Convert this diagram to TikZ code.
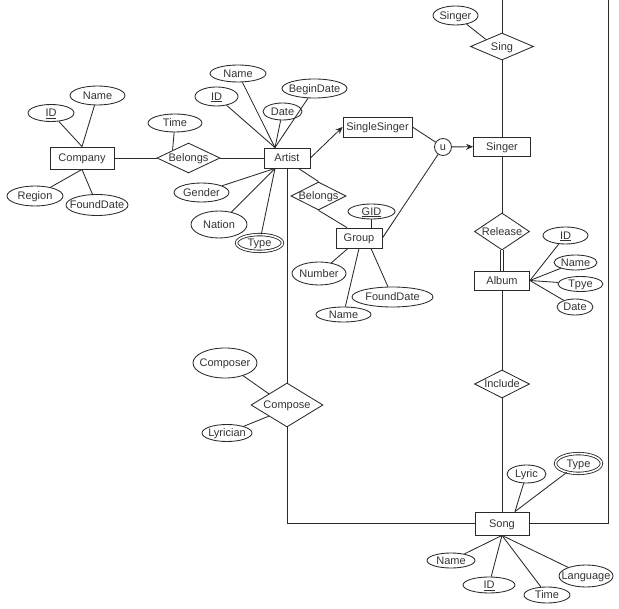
\documentclass[tikz,border=0pt]{standalone}
\usepackage{fontspec}
\setmainfont{Liberation Sans}
\usetikzlibrary{shapes.geometric,arrows.meta,calc}
\definecolor{lc}{HTML}{2a2a2a}
\definecolor{tc}{HTML}{333333}
\tikzset{
  base/.style={draw=lc, line width=0.85pt, text=tc, inner sep=0pt,
    font=\fontsize{11}{12}\selectfont, text height=7.8pt, text depth=0.5pt,
    execute at begin node=\hbox to 0pt\bgroup\hss,
    execute at end node=\hss\egroup},
  ent/.style={base, rectangle},
  attr/.style={base, ellipse},
  multi/.style={base, ellipse, double=white, double distance=1.6pt},
  rel/.style={base, diamond, aspect=2},
  link/.style={draw=lc, line width=0.85pt},
  arr/.style={link, -{Stealth[length=7pt,width=6pt]}},
}
\begin{document}
\begin{tikzpicture}[x=1pt,y=-1pt]
\useasboundingbox (0,0) rectangle (619,609);
% Company
\node[ent, minimum width=64, minimum height=22] (company) at (82,158) {Company};
\node[attr, minimum width=46, minimum height=17] (cid) at (51,113) {\underline{ID}};
\node[attr, minimum width=55, minimum height=19] (cname) at (97.5,95.5) {Name};
\node[attr, minimum width=56, minimum height=20] (cregion) at (35,196) {Region};
\node[attr, minimum width=62, minimum height=21] (cfound) at (97,205) {FoundDate};
\node[attr, minimum width=54, minimum height=18] (time) at (175,123) {Time};
\node[rel, minimum width=63, minimum height=30] (belongs1) at (188.5,158) {Belongs};
% Artist
\node[ent, minimum width=46, minimum height=20] (artist) at (287,158) {Artist};
\node[attr, minimum width=56, minimum height=17] (aname) at (238,73.5) {Name};
\node[attr, minimum width=43, minimum height=19] (aid) at (216.5,96.5) {\underline{ID}};
\node[attr, minimum width=65, minimum height=19] (abegin) at (314.5,88.5) {BeginDate};
\node[attr, minimum width=39, minimum height=17] (adate) at (282.5,111.5) {Date};
\node[attr, minimum width=55, minimum height=19] (agender) at (201.5,192.5) {Gender};
\node[attr, minimum width=56, minimum height=27] (anation) at (219,224.5) {Nation};
\node[multi, minimum width=45.8, minimum height=16.8] (atype) at (259.5,243) {Type};
% Single singer / group
\node[ent, minimum width=69, minimum height=20] (single) at (377.5,127) {SingleSinger};
\node[rel, minimum width=55, minimum height=28] (belongs2) at (318.5,196) {Belongs};
\node[ent, minimum width=46, minimum height=20] (group) at (359,238) {Group};
\node[attr, minimum width=47, minimum height=15] (gid) at (371.5,211.5) {\underline{GID}};
\node[attr, minimum width=54, minimum height=23] (gnumber) at (319,273.5) {Number};
\node[attr, minimum width=55, minimum height=15] (gname) at (343.5,314.5) {Name};
\node[attr, minimum width=81, minimum height=20] (gfound) at (392.5,297) {FoundDate};
\node[base, circle, minimum size=17] (u) at (443,147) {u};
% Singer column
\node[ent, minimum width=57, minimum height=19] (singer) at (502,146.5) {Singer};
\node[rel, minimum width=63, minimum height=27] (sing) at (502,46.5) {Sing};
\node[attr, minimum width=45, minimum height=19] (singattr) at (455.5,15.5) {Singer};
\node[rel, minimum width=55, minimum height=37] (release) at (502,231.5) {Release};
\node[ent, minimum width=55, minimum height=19] (album) at (502,280.5) {Album};
\node[attr, minimum width=45, minimum height=17] (alid) at (565.5,235.5) {\underline{ID}};
\node[attr, minimum width=43, minimum height=15] (alname) at (575.5,262.5) {Name};
\node[attr, minimum width=45, minimum height=15] (altype) at (580.5,284) {Tpye};
\node[attr, minimum width=36, minimum height=16] (aldate) at (575,307) {Date};
\node[rel, minimum width=55, minimum height=28] (include) at (502,384) {Include};
% Compose
\node[rel, minimum width=72, minimum height=44] (compose) at (287,405) {Compose};
\node[attr, minimum width=64, minimum height=30] (composer) at (225,363) {Composer};
\node[attr, minimum width=50, minimum height=17] (lyrician) at (227,433) {Lyrician};
% Song
\node[ent, minimum width=54, minimum height=23] (song) at (502,523.5) {Song};
\node[attr, minimum width=39, minimum height=18] (lyric) at (526.5,474) {Lyric};
\node[multi, minimum width=45.8, minimum height=19.8] (stype) at (578.5,463.5) {Type};
\node[attr, minimum width=48, minimum height=15] (sname) at (451,560.5) {Name};
\node[attr, minimum width=52, minimum height=16] (sid) at (489,585) {\underline{ID}};
\node[attr, minimum width=46, minimum height=16] (stime) at (547,595) {Time};
\node[attr, minimum width=54, minimum height=22] (slang) at (586,576) {Language};
% helper coordinates
\coordinate (atop) at ([xshift=-12pt]artist.north);
\coordinate (abot) at ([xshift=-12pt]artist.south);
\coordinate (stop) at ([xshift=13pt]song.north);
\coordinate (singtop) at (502,0);
\coordinate (rtop) at (608,0);
% connectors: company
\draw[link] (company) -- (belongs1) -- (artist);
\draw[link] (time) -- (belongs1.north west);
\draw[link] (cid) -- (company.north);
\draw[link] (cname) -- (company.north);
\draw[link] (cregion) -- (company.south);
\draw[link] (cfound) -- (company.south);
% artist
\foreach \a in {aname,aid,abegin,adate} \draw[link] (\a) -- (atop);
\foreach \a in {agender,anation,atype} \draw[link] (\a) -- (abot);
\draw[arr] (artist.east) -- (single.west);
\draw[link] ([xshift=-12pt]artist.south east) -- (belongs2.north);
\draw[link] (belongs2.south) -- ([xshift=-12pt]group.north);
\draw[link] (gid) -- (gid |- group.north);
\draw[link] (gnumber) -- ([xshift=-11pt]group.south);
\draw[link] (gname) -- (group.south);
\draw[link] (gfound) -- ([xshift=12pt]group.south);
\draw[link] (single.east) -- (u);
\draw[link] (group.east) -- (u);
\draw[arr] (u) -- (singer);
% singer column
\draw[link] (singtop) -- (sing);
\draw[link] (singattr) -- (sing.north west);
\draw[link] (sing) -- (singer);
\draw[link] (singer) -- (release);
\draw[link, double=white, double distance=2pt] (release) -- (album);
\draw[link] (album) -- (include);
\draw[link] (include) -- (song);
\foreach \a in {alid,alname,altype,aldate} \draw[link] (\a) -- (album.east);
% compose
\draw[link] (artist) -- (compose);
\draw[link] (compose.south) |- (song.west);
\draw[link] (composer) -- (compose.north west);
\draw[link] (lyrician) -- (compose.south west);
% song
\draw[link] (lyric) -- (stop);
\draw[link] (stype) -- (stop);
\foreach \a in {sname,sid,stime,slang} \draw[link] (\a) -- (song.south);
\draw[link] (song.east) -| (rtop);
\end{tikzpicture}
\end{document}
